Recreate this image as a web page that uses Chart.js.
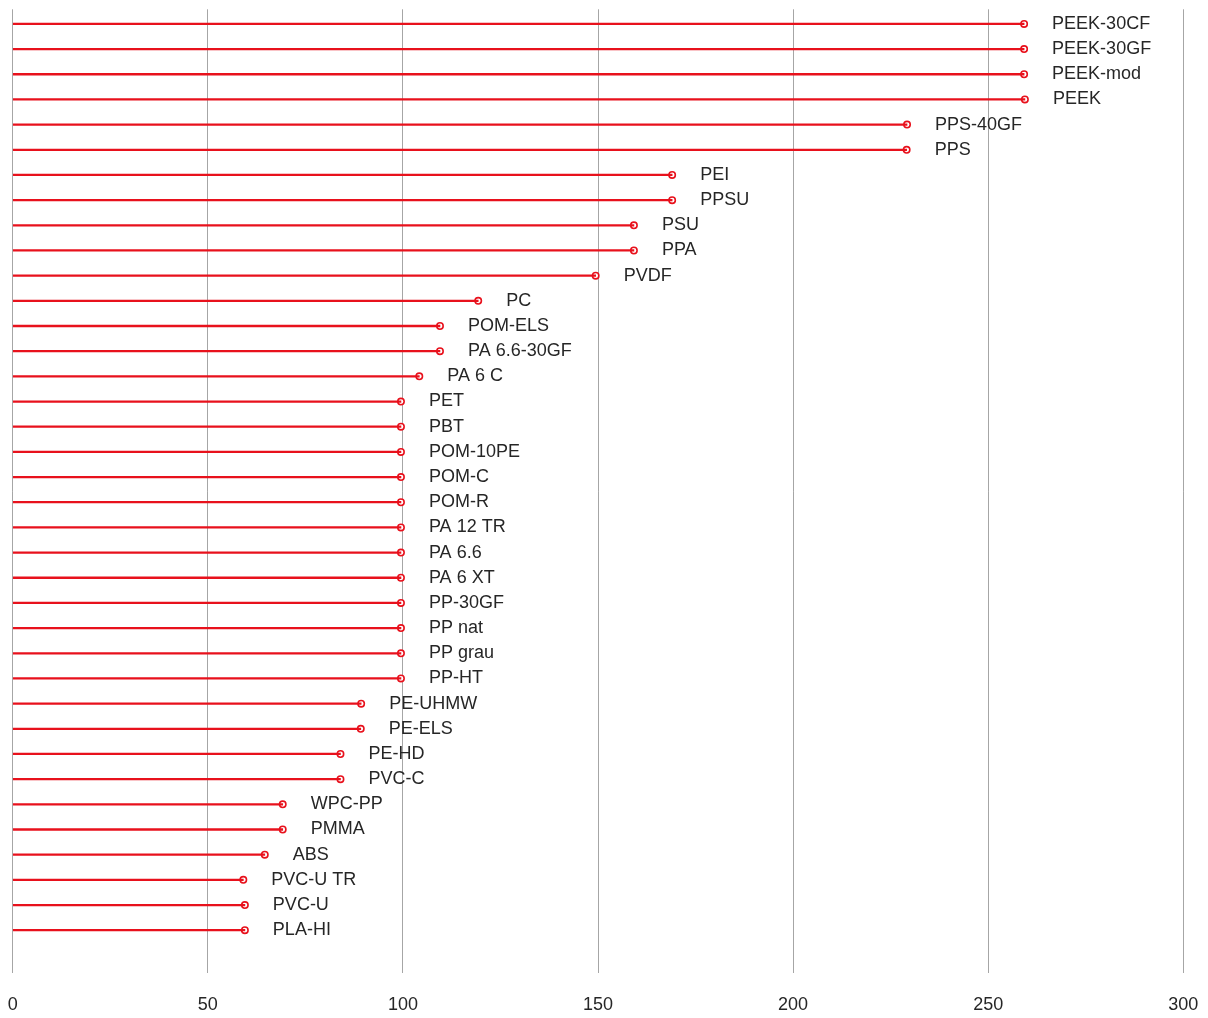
<!DOCTYPE html>
<html>
<head>
<meta charset="utf-8">
<script src="https://cdn.jsdelivr.net/npm/chart.js@4/dist/chart.umd.min.js"></script>
<style>
    html, body { margin: 0; padding: 0; background: #fff; }
    #wrap { width: 1208px; height: 1018px; position: relative; }
</style>
</head>
<body>
<div id="wrap"><canvas id="lollipop"></canvas></div>
<script>
// materials, top to bottom
const materials = [
    "PEEK-30CF", "PEEK-30GF", "PEEK-mod", "PEEK", "PPS-40GF", "PPS",
    "PEI", "PPSU", "PSU", "PPA", "PVDF", "PC", "POM-ELS", "PA 6.6-30GF",
    "PA 6 C", "PET", "PBT", "POM-10PE", "POM-C", "POM-R", "PA 12 TR",
    "PA 6.6", "PA 6 XT", "PP-30GF", "PP nat", "PP grau", "PP-HT",
    "PE-UHMW", "PE-ELS", "PE-HD", "PVC-C", "WPC-PP", "PMMA", "ABS",
    "PVC-U TR", "PVC-U", "PLA-HI"
];

const values = [
    259.2, 259.2, 259.2, 259.4, 229.2, 229.1,
    169, 169, 159.2, 159.2, 149.4, 119.3, 109.5, 109.5,
    104.2, 99.5, 99.5, 99.5, 99.5, 99.5, 99.5,
    99.5, 99.5, 99.5, 99.5, 99.5, 99.5,
    89.3, 89.2, 84, 84, 69.2, 69.2, 64.6,
    59.1, 59.5, 59.5
];

const xTicks = [0, 50, 100, 150, 200, 250, 300];

const RED = '#e8111c';
const FONT = '"Liberation Sans", Arial, sans-serif';

const stemData = values.map((v, i) => ({ x: v, y: i }));
const pointData = values.map((v, i) => ({ x: v, y: i }));

// draws the material name right of each marker
const nameLabels = {
    id: 'nameLabels',
    afterDatasetsDraw(chart) {
        const meta = chart.getDatasetMeta(1);
        const ctx = chart.ctx;
        ctx.save();
        ctx.font = '18px ' + FONT;
        ctx.fillStyle = '#262626';
        ctx.textBaseline = 'middle';
        ctx.textAlign = 'left';
        meta.data.forEach((pt, i) => {
            ctx.fillText(materials[i], pt.x + 28, pt.y);
        });
        ctx.restore();
    }
};

new Chart(document.getElementById('lollipop'), {
    type: 'bar',
    data: {
        datasets: [
            {
                type: 'bar',
                data: stemData,
                backgroundColor: RED,
                borderWidth: 0,
                barThickness: 1.6
            },
            {
                type: 'scatter',
                data: pointData,
                showLine: false,
                pointRadius: 3.2,
                pointBorderWidth: 1.6,
                pointBorderColor: RED,
                pointBackgroundColor: '#fff'
            }
        ]
    },
    options: {
        indexAxis: 'y',
        responsive: true,
        maintainAspectRatio: false,
        animation: false,
        layout: { padding: { left: 12.7, right: 24.7, top: 9.3, bottom: 2.4 } },
        plugins: {
            legend: { display: false },
            tooltip: { enabled: false }
        },
        scales: {
            x: {
                type: 'linear',
                min: 0,
                max: 300,
                afterBuildTicks: (axis) => { axis.ticks = xTicks.map(v => ({ value: v })); },
                grid: { color: '#a6a6a6', lineWidth: 1, drawTicks: true, tickLength: 21, tickColor: 'rgba(0,0,0,0)' },
                border: { display: false },
                ticks: {
                    color: '#262626',
                    padding: 0,
                    font: { family: FONT, size: 18 }
                }
            },
            y: {
                type: 'linear',
                reverse: true,
                offset: false,
                min: -0.58,
                max: 37.7,
                display: false
            }
        }
    },
    plugins: [nameLabels]
});
</script>
</body>
</html>
